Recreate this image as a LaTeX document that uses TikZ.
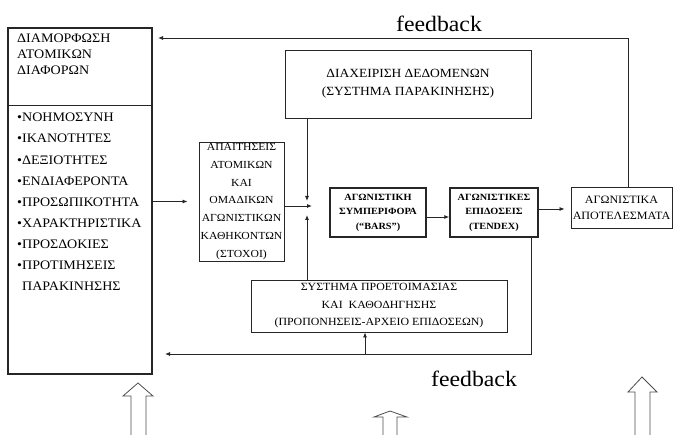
\documentclass[tikz,border=0pt]{standalone}
\usepackage{fontspec}
\setmainfont[FakeStretch=1.08]{Liberation Serif}
\usetikzlibrary{arrows.meta}
\begin{document}
\begin{tikzpicture}[x=1pt,y=-1pt,
  ln/.style={draw=black!85, line width=0.8pt},
  arr/.style={ln, -{Latex[length=5pt,width=4pt]}},
  box/.style={draw=black!85, line width=0.9pt, inner sep=0pt, align=center},
  bbox/.style={box, line width=1.5pt},
  hollow/.style={draw=black!70, line width=0.8pt},
  lbl/.style={inner sep=0pt, anchor=base}
]
\useasboundingbox (0,0) rectangle (677,435);

% left box
\node[bbox, minimum width=144pt, minimum height=346pt] (L) at (80,201) {};
\draw[ln] (L.west |- 0,105) -- (L.east |- 0,105);
\node[anchor=north west, inner sep=0pt, align=left, font=\fontsize{13}{16}\selectfont] (Lt) at (17,34)
  {ΔΙΑΜΟΡΦΩΣΗ\\ΑΤΟΜΙΚΩΝ\\ΔΙΑΦΟΡΩΝ};
\node[anchor=north west, inner sep=0pt, align=left, font=\fontsize{13}{21.1}\selectfont] (Lb) at (17,113)
  {•ΝΟΗΜΟΣΥΝΗ\\•ΙΚΑΝΟΤΗΤΕΣ\\•ΔΕΞΙΟΤΗΤΕΣ\\•ΕΝΔΙΑΦΕΡΟΝΤΑ\\•ΠΡΟΣΩΠΙΚΟΤΗΤΑ\\•ΧΑΡΑΚΤΗΡΙΣΤΙΚΑ\\•ΠΡΟΣΔΟΚΙΕΣ\\•ΠΡΟΤΙΜΗΣΕΙΣ\\\phantom{•}ΠΑΡΑΚΙΝΗΣΗΣ};

% boxes
\node[box, minimum width=85pt, minimum height=119pt, font=\fontsize{10.8}{17.7}\selectfont] (A) at (241.5,201.5)
  {ΑΠΑΙΤΗΣΕΙΣ\\ΑΤΟΜΙΚΩΝ\\ΚΑΙ\\ΟΜΑΔΙΚΩΝ\\ΑΓΩΝΙΣΤΙΚΩΝ\\ΚΑΘΗΚΟΝΤΩΝ\\(ΣΤΟΧΟΙ)};
\node[box, minimum width=246pt, minimum height=68pt, font=\fontsize{12.5}{18}\selectfont] (D) at (408,84)
  {ΔΙΑΧΕΙΡΙΣΗ ΔΕΔΟΜΕΝΩΝ\\(ΣΥΣΤΗΜΑ ΠΑΡΑΚΙΝΗΣΗΣ)};
\node[box, minimum width=256pt, minimum height=52pt, font=\fontsize{11}{17.5}\selectfont] (S) at (379,306)
  {ΣΥΣΤΗΜΑ ΠΡΟΕΤΟΙΜΑΣΙΑΣ\\ΚΑΙ\ \ ΚΑΘΟΔΗΓΗΣΗΣ\\(ΠΡΟΠΟΝΗΣΕΙΣ-ΑΡΧΕΙΟ ΕΠΙΔΟΣΕΩΝ)};
\node[bbox, minimum width=96pt, minimum height=49pt, font=\bfseries\fontsize{9.5}{14.5}\selectfont] (B1) at (378,212.5)
  {ΑΓΩΝΙΣΤΙΚΗ\\ΣΥΜΠΕΡΙΦΟΡΑ\\(“BARS”)};
\node[bbox, minimum width=88pt, minimum height=49pt, font=\bfseries\fontsize{9.5}{14.5}\selectfont] (B2) at (494,212.5)
  {ΑΓΩΝΙΣΤΙΚΕΣ\\ΕΠΙΔΟΣΕΙΣ\\(TENDEX)};
\node[box, minimum width=101pt, minimum height=41pt, font=\fontsize{11.2}{16}\selectfont] (R) at (621.5,207.5)
  {ΑΓΩΝΙΣΤΙΚΑ\\ΑΠΟΤΕΛΕΣΜΑΤΑ};

% feedback labels
\node[lbl, font=\fontsize{22}{26}\selectfont] (fb1) at (439,31.7) {feedback};
\node[lbl, font=\fontsize{22}{26}\selectfont] (fb2) at (474,386) {feedback};

% coordinates
\coordinate (jh) at (312,206);
\coordinate (jt) at (307,201);
\coordinate (jb) at (307,215);
\coordinate (fbt) at (158,38);
\coordinate (fbb) at (165,354);
\coordinate (sb) at (365,354);

% connectors
\draw[arr, shorten >=11pt] (L.east |- A.west) -- (A.west);
\draw[arr] (A.east |- jh) -- (jh);
\draw[arr] (D.south -| jt) -- (jt);
\draw[arr] (S.north -| jb) -- (jb);
\draw[arr] ([yshift=-4.5pt]B1.east) -- ([yshift=-4.5pt]B2.west);
\draw[arr, shorten >=6pt] ([yshift=3.5pt]B2.east) -- ([yshift=3.5pt]B2.east -| R.west);
\draw[arr] ([xshift=6.5pt]R.north) |- (fbt);
\draw[arr] ([xshift=37pt]B2.south) |- (fbb);
\draw[arr] (sb) -- (S.south -| sb);

% hollow block arrows
\draw[hollow] (131,436) -- (131,396) -- (123,396) -- (138,383) -- (153,396) -- (146,396) -- (146,436);
\draw[hollow] (383,436) -- (383,417) -- (374,417) -- (390,411) -- (407,417) -- (397,417) -- (397,436);
\draw[hollow] (635,436) -- (635,392) -- (628,392) -- (642,377) -- (657,392) -- (650,392) -- (650,436);
\end{tikzpicture}
\end{document}
